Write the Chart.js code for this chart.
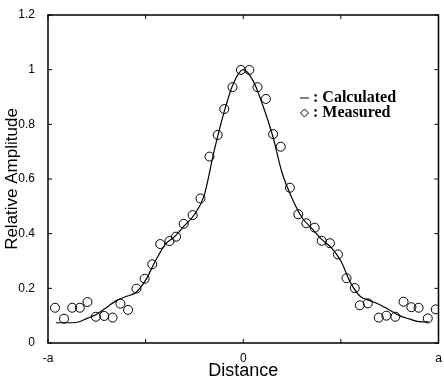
<!DOCTYPE html>
<html>
<head>
<meta charset="utf-8">
<script src="https://cdn.jsdelivr.net/npm/chart.js@4"></script>
<style>
  html, body { margin: 0; padding: 0; background: #fff; }
  #wrap { width: 444px; height: 382px; }
</style>
</head>
<body>
<div id="wrap"><canvas id="amp-chart"></canvas></div>
<script>
// measured points (distance in units of a, relative amplitude)
var measuredX = [-0.964, -0.918, -0.876, -0.837, -0.798, -0.755, -0.712, -0.669, -0.629, -0.590, -0.547,
  -0.505, -0.466, -0.425, -0.378, -0.344, -0.305, -0.259, -0.219, -0.173,
  -0.131, -0.097, -0.055, -0.012, 0.031, 0.073, 0.116, 0.153, 0.192,
  0.239, 0.282, 0.323, 0.366, 0.402, 0.444, 0.485, 0.529, 0.571,
  0.597, 0.638, 0.694, 0.733, 0.779, 0.821, 0.861, 0.898, 0.945, 0.986];
var measuredY = [0.129, 0.089, 0.129, 0.129, 0.150, 0.096, 0.099, 0.093, 0.144, 0.121, 0.199,
  0.235, 0.288, 0.362, 0.373, 0.389, 0.436, 0.468, 0.529, 0.682,
  0.761, 0.856, 0.936, 0.999, 0.999, 0.936, 0.893, 0.764, 0.718,
  0.568, 0.471, 0.438, 0.422, 0.374, 0.365, 0.324, 0.237, 0.201,
  0.138, 0.145, 0.093, 0.100, 0.096, 0.151, 0.131, 0.129, 0.090, 0.123];

// calculated curve
var calcX = [-0.96, -0.90, -0.85, -0.80, -0.75, -0.70, -0.65, -0.60, -0.55, -0.50, -0.45, -0.40,
  -0.35, -0.30, -0.25, -0.20, -0.15, -0.10, -0.05, 0, 0.05, 0.10, 0.15, 0.20, 0.25, 0.30,
  0.35, 0.40, 0.45, 0.50, 0.55, 0.60, 0.65, 0.70, 0.75, 0.80, 0.85, 0.90, 0.95];
var calcY = [0.074, 0.074, 0.076, 0.090, 0.105, 0.130, 0.155, 0.170, 0.185, 0.230, 0.300, 0.360,
  0.390, 0.430, 0.470, 0.540, 0.700, 0.840, 0.950, 1.000, 0.960, 0.870, 0.760, 0.620, 0.530, 0.460,
  0.420, 0.380, 0.350, 0.300, 0.220, 0.170, 0.155, 0.140, 0.120, 0.100, 0.088, 0.078, 0.077];

var xTickLabels = { '-1': '-a', '0': '0', '1': 'a' };

function pairs(xs, ys) {
  return xs.map(function (x, i) { return { x: x, y: ys[i] }; });
}

// box frame with inward ticks on all four sides, plus the in-plot legend
var framePlugin = {
  id: 'frame',
  afterDraw: function (chart) {
    var ctx = chart.ctx, a = chart.chartArea;
    var xs = chart.scales.x, ys = chart.scales.y;
    ctx.save();
    ctx.strokeStyle = '#000';
    ctx.lineWidth = 1.5;
    ctx.strokeRect(a.left, a.top, a.right - a.left, a.bottom - a.top);
    ctx.lineWidth = 1;
    ctx.beginPath();
    xs.ticks.forEach(function (t) {
      var px = xs.getPixelForValue(t.value);
      ctx.moveTo(px, a.bottom); ctx.lineTo(px, a.bottom - 4);
      ctx.moveTo(px, a.top); ctx.lineTo(px, a.top + 4);
    });
    ys.ticks.forEach(function (t) {
      var py = ys.getPixelForValue(t.value);
      ctx.moveTo(a.left, py); ctx.lineTo(a.left + 4, py);
      ctx.moveTo(a.right, py); ctx.lineTo(a.right - 4, py);
    });
    ctx.stroke();

    // legend
    var lx = 300, ly = 98;
    ctx.fillStyle = '#000';
    ctx.font = 'bold 16px "Liberation Serif"';
    ctx.textBaseline = 'middle';
    ctx.beginPath();
    ctx.moveTo(lx, ly); ctx.lineTo(lx + 9, ly);
    ctx.stroke();
    ctx.fillText(' : Calculated', lx + 9, ly);
    ctx.beginPath();
    ctx.moveTo(lx + 4.5, ly + 11); ctx.lineTo(lx + 8.5, ly + 15);
    ctx.lineTo(lx + 4.5, ly + 19); ctx.lineTo(lx + 0.5, ly + 15);
    ctx.closePath();
    ctx.stroke();
    ctx.fillText(' : Measured', lx + 9, ly + 15);
    ctx.restore();
  }
};

new Chart(document.getElementById('amp-chart').getContext('2d'), {
  type: 'scatter',
  data: {
    datasets: [{
      label: 'Calculated',
      data: pairs(calcX, calcY),
      showLine: true,
      borderColor: '#000',
      borderWidth: 1.2,
      pointRadius: 0,
      cubicInterpolationMode: 'monotone',
      fill: false
    }, {
      label: 'Measured',
      data: pairs(measuredX, measuredY),
      showLine: false,
      pointStyle: 'circle',
      pointRadius: 4.5,
      pointBackgroundColor: 'rgba(255,255,255,0)',
      pointBorderColor: '#000',
      pointBorderWidth: 1
    }]
  },
  options: {
    responsive: true,
    maintainAspectRatio: false,
    animation: false,
    layout: { padding: { left: 0, right: 3, top: 15, bottom: 0 } },
    plugins: {
      legend: { display: false },
      tooltip: { enabled: false }
    },
    scales: {
      x: {
        type: 'linear',
        min: -1, max: 1,
        grid: { display: false },
        border: { display: false },
        ticks: {
          stepSize: 0.5,
          autoSkip: false,
          maxRotation: 0,
          padding: 0,
          color: '#000',
          font: { family: 'Liberation Sans', size: 12 },
          callback: function (v) { return xTickLabels[String(v)] || ''; }
        },
        title: {
          display: true,
          text: 'Distance',
          color: '#000',
          font: { family: 'Liberation Sans', size: 18 },
          padding: { top: 0, bottom: 0 }
        },
        afterFit: function (scale) { scale.height = 39; }
      },
      y: {
        min: 0, max: 1.2,
        grid: { display: false },
        border: { display: false },
        ticks: {
          stepSize: 0.2,
          padding: 5,
          color: '#000',
          font: { family: 'Liberation Sans', size: 12 },
          callback: function (v) {
            var r = Math.round(v * 10) / 10;
            return r === 0 ? '0' : (r === 1 ? '1' : r.toFixed(1));
          }
        },
        title: {
          display: true,
          text: 'Relative Amplitude',
          color: '#000',
          font: { family: 'Liberation Sans', size: 17 },
          padding: { top: 2, bottom: 0 }
        },
        afterFit: function (scale) { scale.width = 48; }
      }
    }
  },
  plugins: [framePlugin]
});
</script>
</body>
</html>
